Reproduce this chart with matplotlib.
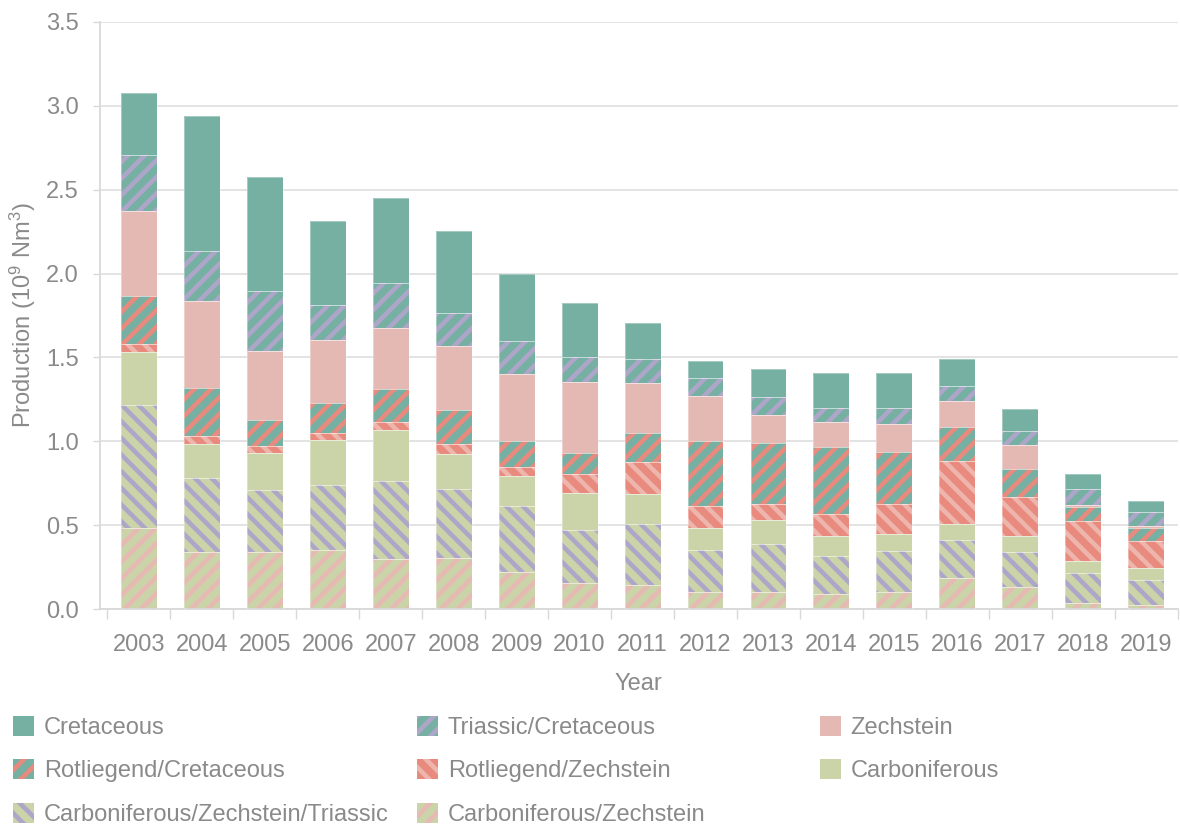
import numpy as np
import matplotlib
matplotlib.use("Agg")
import matplotlib.pyplot as plt

plt.rcParams["font.family"] = ["Liberation Sans", "DejaVu Sans"]
plt.rcParams["mathtext.fontset"] = "custom"
plt.rcParams["mathtext.rm"] = "Liberation Sans"
plt.rcParams["mathtext.default"] = "regular"
plt.rcParams["hatch.linewidth"] = 3.3

# Data (10^9 Nm3)
years = ["2003", "2004", "2005", "2006", "2007", "2008", "2009", "2010", "2011",
         "2012", "2013", "2014", "2015", "2016", "2017", "2018", "2019"]

carb_zech = [0.485, 0.337, 0.337, 0.351, 0.297, 0.305, 0.222, 0.153, 0.143,
             0.099, 0.099, 0.087, 0.103, 0.186, 0.131, 0.036, 0.024]
carb_zech_tri = [0.731, 0.447, 0.374, 0.386, 0.465, 0.412, 0.394, 0.321, 0.366,
                 0.253, 0.291, 0.232, 0.242, 0.224, 0.208, 0.178, 0.148]
carboniferous = [0.317, 0.202, 0.218, 0.271, 0.308, 0.208, 0.180, 0.217, 0.174,
                 0.128, 0.139, 0.117, 0.101, 0.099, 0.095, 0.071, 0.072]
rot_zech = [0.046, 0.046, 0.045, 0.040, 0.045, 0.060, 0.050, 0.115, 0.196,
            0.136, 0.099, 0.133, 0.182, 0.376, 0.231, 0.238, 0.160]
rot_cret = [0.289, 0.283, 0.155, 0.178, 0.194, 0.203, 0.158, 0.123, 0.173,
            0.388, 0.360, 0.395, 0.307, 0.202, 0.167, 0.083, 0.077]
zechstein = [0.507, 0.521, 0.410, 0.380, 0.368, 0.383, 0.396, 0.422, 0.297,
             0.268, 0.171, 0.153, 0.168, 0.155, 0.148, 0.012, 0.012]
tri_cret = [0.329, 0.297, 0.355, 0.204, 0.268, 0.194, 0.198, 0.154, 0.141,
            0.105, 0.105, 0.081, 0.095, 0.087, 0.084, 0.095, 0.083]
cretaceous = [0.370, 0.808, 0.683, 0.501, 0.503, 0.487, 0.400, 0.321, 0.215,
              0.103, 0.166, 0.210, 0.208, 0.161, 0.130, 0.089, 0.066]

teal = "#76b0a3"
purple = "#aea6c8"
salmon = "#e88a7d"
pink = "#e5b9b3"
lightpink = "#edb5ac"
green = "#cbd3a9"

# name, values, face, hatch colour, hatch (bottom to top)
series = [
    ("Carboniferous/Zechstein", carb_zech, green, "#e6b9b2", "//"),
    ("Carboniferous/Zechstein/Triassic", carb_zech_tri, green, purple, "\\\\"),
    ("Carboniferous", carboniferous, green, green, None),
    ("Rotliegend/Zechstein", rot_zech, salmon, lightpink, "\\\\"),
    ("Rotliegend/Cretaceous", rot_cret, teal, salmon, "//"),
    ("Zechstein", zechstein, pink, pink, None),
    ("Triassic/Cretaceous", tri_cret, teal, purple, "//"),
    ("Cretaceous", cretaceous, teal, teal, None),
]

txt = "#8a8a8a"
axc = "#d9d9d9"

fig = plt.figure(figsize=(11.8, 8.27), dpi=100)
ax = fig.add_axes([0.0847, 0.2636, 0.9133, 0.7098])

x = np.arange(len(years))
width = 0.57
bottom = np.zeros(len(years))
handles = {}
for name, vals, face, hcol, hatch in series:
    vals = np.array(vals)
    b = ax.bar(x, vals, width, bottom=bottom, color=face, edgecolor=hcol,
               hatch=hatch, linewidth=0, zorder=2, label=name)
    ax.bar(x, vals, width, bottom=bottom, fill=False,
           edgecolor=(1, 1, 1, 0.4), linewidth=0.6, zorder=3)
    handles[name] = b
    bottom += vals

ax.set_xlim(-0.62, 16.48)
ax.set_ylim(0, 3.5)
ax.set_yticks(np.arange(0, 3.51, 0.5))
ax.set_yticklabels([f"{v:.1f}" for v in np.arange(0, 3.51, 0.5)])
ax.set_xticks(x)
ax.set_xticklabels(years)
ax.set_xticks(np.arange(-0.5, 16.6, 1), minor=True)
ax.tick_params(axis="x", which="major", length=0, pad=18, labelsize=17, labelcolor=txt)
ax.tick_params(axis="x", which="minor", length=7, width=1, color=axc)
ax.tick_params(axis="y", length=5, width=1, color=axc, labelsize=17, labelcolor=txt, pad=10)

ax.grid(axis="y", color="#e0e0e0", linewidth=1.3, zorder=0)
ax.set_axisbelow(True)
for s in ("top", "right"):
    ax.spines[s].set_visible(False)
for s in ("left", "bottom"):
    ax.spines[s].set_color(axc)
    ax.spines[s].set_linewidth(1.3)

ax.set_xlabel("Year", fontsize=17, color=txt, labelpad=12)
ax.set_ylabel("Production (10$^9$ Nm$^3$)", fontsize=17, color=txt, labelpad=6)

cols = [
    (["Cretaceous", "Rotliegend/Cretaceous", "Carboniferous/Zechstein/Triassic"], 13),
    (["Triassic/Cretaceous", "Rotliegend/Zechstein", "Carboniferous/Zechstein"], 417),
    (["Zechstein", "Carboniferous"], 820),
]
for names, px in cols:
    leg = fig.legend([handles[n] for n in names], names, loc="upper left",
                     bbox_to_anchor=(px / 1180, 1 - 716 / 827), frameon=False,
                     fontsize=17, labelcolor=txt, handlelength=0.9, handleheight=0.9,
                     handletextpad=0.4, labelspacing=0.87, borderpad=0, borderaxespad=0)

fig.savefig("out.png", dpi=100)
